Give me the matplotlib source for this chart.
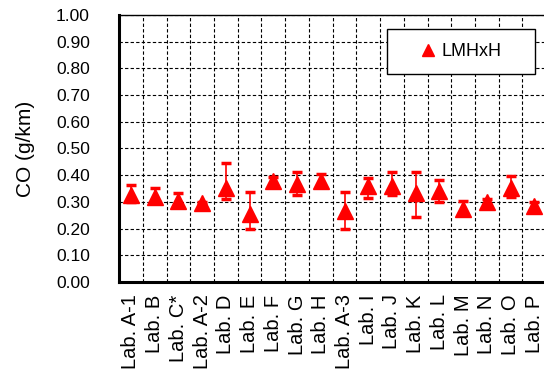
import numpy as np
import matplotlib
matplotlib.use("Agg")
import matplotlib.pyplot as plt
from matplotlib.patches import Rectangle

### DATA ###
labs = ["Lab. A-1", "Lab. B", "Lab. C*", "Lab. A-2", "Lab. D", "Lab. E",
        "Lab. F", "Lab. G", "Lab. H", "Lab. A-3", "Lab. I", "Lab. J",
        "Lab. K", "Lab. L", "Lab. M", "Lab. N", "Lab. O", "Lab. P"]
co_mean = [0.326, 0.318, 0.305, 0.296, 0.352, 0.255, 0.377, 0.367, 0.378,
           0.266, 0.360, 0.360, 0.333, 0.341, 0.273, 0.300, 0.352, 0.283]
co_high = [0.363, 0.351, 0.334, 0.300, 0.444, 0.338, 0.392, 0.411, 0.405,
           0.336, 0.388, 0.413, 0.411, 0.382, 0.305, 0.310, 0.398, 0.300]
co_low = [0.300, 0.300, 0.285, 0.290, 0.311, 0.198, 0.365, 0.326, 0.365,
          0.198, 0.313, 0.326, 0.242, 0.298, 0.260, 0.290, 0.317, 0.270]
series_name = "LMHxH"
y_ticks = [0.0, 0.1, 0.2, 0.3, 0.4, 0.5, 0.6, 0.7, 0.8, 0.9, 1.0]
##############

plt.rcParams["font.family"] = ["Liberation Sans", "DejaVu Sans"]
FS = 12.5


def main():
    fig = plt.figure(figsize=(5.44, 3.74), dpi=100)
    ax = fig.add_axes([0.219, 0.246, 0.785, 0.714])

    x = np.arange(len(labs))
    mean = np.array(co_mean)
    yerr = [mean - np.array(co_low), np.array(co_high) - mean]

    ax.errorbar(x, mean, yerr=yerr, fmt="none", ecolor="red",
                elinewidth=1.2, capsize=3.6, capthick=2.5, zorder=3)
    ax.plot(x, mean, linestyle="none", marker="^", markersize=11,
            color="red", zorder=4)

    ax.set_xlim(-0.5, len(labs) - 0.5)
    ax.set_ylim(0, 1.0)
    ax.set_yticks(y_ticks)
    ax.set_yticklabels([f"{v:.2f}" for v in y_ticks], fontsize=FS)
    ax.set_xticks(x)
    ax.set_xticklabels(labs, rotation=90, fontsize=14.5)
    ax.set_xticks(np.arange(-0.5, len(labs)), minor=True)
    ax.tick_params(axis="y", length=0, pad=21)
    ax.tick_params(axis="x", which="both", length=0, pad=9)

    # dashed grid: horizontal at y ticks, vertical at category boundaries
    ax.set_axisbelow(True)
    ax.grid(axis="y", which="major", color="black", linestyle=(0, (3, 2)),
            linewidth=0.8)
    ax.grid(axis="x", which="minor", color="black", linestyle=(0, (3, 2)),
            linewidth=0.8)

    ax.spines["left"].set_linewidth(2.2)
    ax.spines["bottom"].set_linewidth(2.2)
    ax.spines["top"].set_linewidth(1.0)
    ax.spines["right"].set_linewidth(1.0)

    ax.set_ylabel("CO (g/km)", fontsize=15)
    ax.yaxis.set_label_coords(-0.197, 0.5)

    # legend box
    box = Rectangle((0.628, 0.779), 0.346, 0.169, transform=ax.transAxes,
                    facecolor="white", edgecolor="black", linewidth=1.0,
                    zorder=5)
    ax.add_patch(box)
    h, = ax.plot([], [], linestyle="none", marker="^", markersize=9,
                 color="red")
    leg = ax.legend([h], [series_name], loc="center",
                    bbox_to_anchor=(0.801, 0.8635), frameon=False,
                    fontsize=13, handlelength=0.8, handletextpad=0.3,
                    borderpad=0)
    leg.set_zorder(6)

    fig.savefig("out.png", dpi=100)


main()
